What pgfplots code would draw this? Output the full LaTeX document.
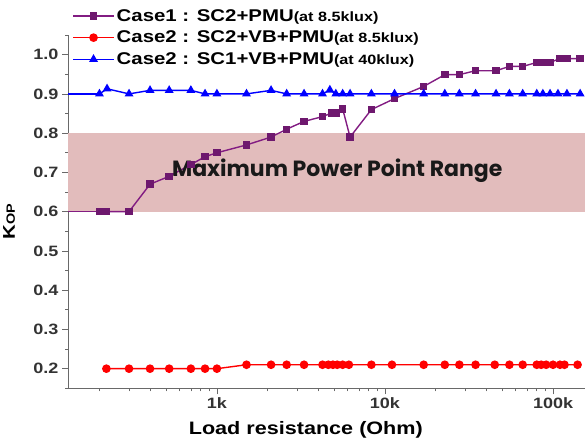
\documentclass[border=0pt]{standalone}
\usepackage{fontspec}
\setmainfont{Liberation Sans}[FakeStretch=1.2]
\newfontfamily\popfont{Poppins}
\usepackage{pgfplots}
\pgfplotsset{compat=1.18}
\definecolor{bandcol}{RGB}{226,188,188}
\definecolor{pur}{RGB}{130,28,130}
\definecolor{axgray}{RGB}{105,105,105}
\begin{document}
\begin{tikzpicture}
\begin{axis}[
  at={(68pt,56.7pt)}, anchor=south west,
  scale only axis, width=517pt, height=353.3pt,
  xmode=log, xmin=130, xmax=155000, ymin=0.15, ymax=1.05,
  axis x line*=bottom, axis y line*=left,
  axis line style={axgray, line width=0.9pt},
  every tick/.style={axgray, line width=0.7pt},
  tick align=outside,
  major tick length=6pt, minor tick length=3pt,
  xtick={1000,10000,100000}, xticklabels={1k,10k,100k},
  minor xtick={200,300,400,500,600,700,800,900,2000,3000,4000,5000,6000,7000,8000,9000,20000,30000,40000,50000,60000,70000,80000,90000},
  ytick={0.2,0.3,0.4,0.5,0.6,0.7,0.8,0.9,1.0},
  minor ytick={0.15,0.25,0.35,0.45,0.55,0.65,0.75,0.85,0.95,1.05},
  yticklabel style={/pgf/number format/.cd, fixed, fixed zerofill, precision=1, assume math mode=true},
  ticklabel style={font=\bfseries\fontsize{15}{15}\selectfont, text=black!80},
  xlabel={Load resistance (Ohm)},
  xlabel style={font=\bfseries\fontsize{18}{18}\selectfont, at={(axis description cs:0.46,-0.118)}, anchor=center},
  ylabel={K{\fontsize{12}{12}\selectfont OP}},
  ylabel style={font=\bfseries\fontsize{17}{17}\selectfont, at={(axis description cs:-0.114,0.471)}, anchor=center, rotate=0},
  legend style={at={(axis description cs:0.008,1.079)}, anchor=north west, draw=none, fill=none,
    font=\bfseries\fontsize{17}{17}\selectfont, row sep=4.3pt, inner sep=0pt},
  legend cell align=left,
  legend image code/.code={\draw[mark repeat=2,mark phase=2] plot coordinates {(0pt,0pt)(20.5pt,0pt)(41pt,0pt)};},
  clip=true,
]
\addplot[draw=none, fill=bandcol, forget plot] coordinates {(100,0.6) (200000,0.6) (200000,0.8) (100,0.8)} -- cycle;
\addplot[pur, line width=1.4pt, forget plot] coordinates {(100,0.6)(200,0.6)};
\addplot[blue, line width=1.4pt, forget plot] coordinates {(100,0.9)(200,0.9)};
\addplot[pur, line width=1.4pt, mark=square*, mark size=3pt, mark options={fill=pur!85!black, draw=pur!85!black}] coordinates {
(200,0.60)(220,0.60)(300,0.60)(400,0.67)(520,0.69)(700,0.72)(850,0.74)(1000,0.75)(1500,0.77)(2100,0.79)(2600,0.81)(3300,0.83)(4250,0.842)(4800,0.851)(5100,0.851)(5600,0.862)(6200,0.79)(8300,0.86)(11400,0.888)(17000,0.919)(22700,0.949)(27700,0.949)(34600,0.959)(45800,0.959)(55000,0.97)(66000,0.97)(80000,0.98)(85000,0.98)(90000,0.98)(96000,0.98)(110000,0.99)(121000,0.99)(145000,0.99)};
\addlegendentry{Case1 : SC2+PMU{\fontsize{13.5}{13.5}\selectfont(at 8.5klux)}}
\addplot[red, line width=1.4pt, mark=*, mark size=3.6pt, mark options={fill=red, draw=red}] coordinates {
(220,0.20)(300,0.20)(400,0.20)(520,0.20)(700,0.20)(850,0.20)(1000,0.20)(1500,0.21)(2100,0.21)(2600,0.21)(3300,0.21)(4250,0.21)(4600,0.21)(4900,0.21)(5200,0.21)(5600,0.21)(6100,0.21)(8300,0.21)(11000,0.21)(17000,0.21)(22700,0.21)(27700,0.21)(34600,0.21)(45000,0.21)(55000,0.21)(66000,0.21)(80000,0.21)(85000,0.21)(91000,0.21)(100000,0.21)(110000,0.21)(117000,0.21)(140000,0.21)};
\addlegendentry{Case2 : SC2+VB+PMU{\fontsize{13.5}{13.5}\selectfont(at 8.5klux)}}
\addplot[blue, line width=1.4pt, mark=triangle*, mark size=3.8pt, mark options={fill=blue, draw=blue}] coordinates {
(200,0.90)(222,0.913)(300,0.90)(400,0.909)(520,0.909)(700,0.909)(850,0.90)(1000,0.90)(1500,0.90)(2100,0.909)(2600,0.90)(3300,0.90)(4250,0.90)(4700,0.91)(5100,0.90)(5600,0.90)(6200,0.90)(8300,0.90)(11400,0.90)(17000,0.90)(22700,0.90)(27700,0.90)(34600,0.90)(45800,0.90)(55000,0.90)(66000,0.90)(80000,0.90)(87000,0.90)(96000,0.90)(107000,0.90)(121000,0.90)(145000,0.90)};
\addlegendentry{Case2 : SC1+VB+PMU{\fontsize{13.5}{13.5}\selectfont(at 40klux)}}
\node[font=\popfont\bfseries\fontsize{22}{22}\selectfont, text=black!90] at (axis cs:5200,0.705) {Maximum Power Point Range};
\end{axis}
\pgfresetboundingbox
\path (0pt,0pt) rectangle (585pt,445pt);
\end{tikzpicture}
\end{document}
